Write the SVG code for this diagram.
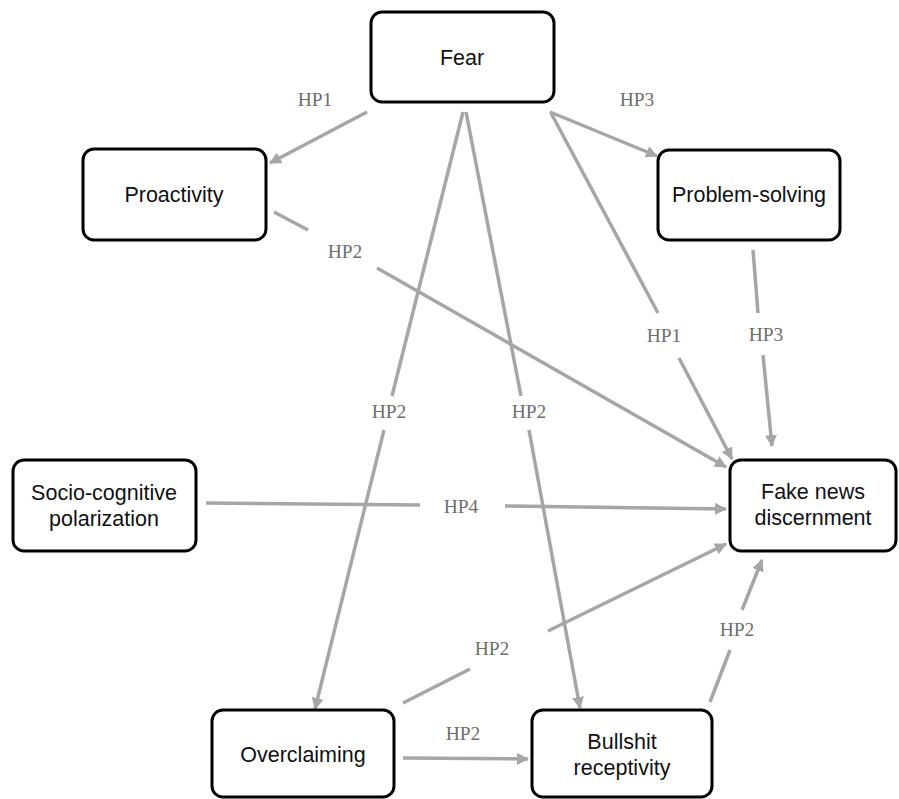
<svg xmlns="http://www.w3.org/2000/svg" width="899" height="799" viewBox="0 0 899 799">
<defs>
<marker id="ah" markerWidth="12" markerHeight="12" viewBox="0 0 12 12" refX="11" refY="6" orient="auto" markerUnits="userSpaceOnUse">
<path d="M0,0 L12,6 L0,12 Z" fill="#a6a6a6"/>
</marker>
<style>
.box{fill:#fff;stroke:#000;stroke-width:3}
.nt{font-family:"Liberation Sans",Arial,sans-serif;font-size:21.5px;fill:#111;text-anchor:middle}
.ln{stroke:#a6a6a6;stroke-width:3.5;fill:none}
.lb{font-family:"Liberation Serif","Times New Roman",serif;font-size:19.5px;fill:#6e6e6e;text-anchor:middle}
</style>
</defs>
<rect width="899" height="799" fill="#fff"/>
<g id="connectors">
<line class="ln" x1="367" y1="112" x2="270" y2="163" marker-end="url(#ah)"/>
<text class="lb" x="315" y="106">HP1</text>
<line class="ln" x1="550" y1="112" x2="657" y2="156" marker-end="url(#ah)"/>
<text class="lb" x="637" y="106">HP3</text>
<line class="ln" x1="463" y1="112" x2="392" y2="396"/>
<line class="ln" x1="384" y1="430" x2="315" y2="709" marker-end="url(#ah)"/>
<text class="lb" x="389" y="418">HP2</text>
<line class="ln" x1="466" y1="112" x2="521" y2="396"/>
<line class="ln" x1="529" y1="430" x2="580" y2="708" marker-end="url(#ah)"/>
<text class="lb" x="529" y="418">HP2</text>
<line class="ln" x1="551" y1="113" x2="658" y2="313"/>
<line class="ln" x1="679" y1="358" x2="732" y2="459" marker-end="url(#ah)"/>
<text class="lb" x="664" y="342">HP1</text>
<line class="ln" x1="274" y1="212" x2="308" y2="230"/>
<line class="ln" x1="377" y1="268" x2="726" y2="467" marker-end="url(#ah)"/>
<text class="lb" x="345" y="258">HP2</text>
<line class="ln" x1="753" y1="250" x2="758" y2="313"/>
<line class="ln" x1="763" y1="355" x2="772" y2="446" marker-end="url(#ah)"/>
<text class="lb" x="766" y="341">HP3</text>
<line class="ln" x1="206" y1="503" x2="420" y2="505"/>
<line class="ln" x1="505" y1="506" x2="726" y2="509" marker-end="url(#ah)"/>
<text class="lb" x="461" y="513">HP4</text>
<line class="ln" x1="403" y1="703" x2="470" y2="669"/>
<line class="ln" x1="548" y1="631" x2="726" y2="544" marker-end="url(#ah)"/>
<text class="lb" x="492" y="655">HP2</text>
<line class="ln" x1="403" y1="758" x2="528" y2="759" marker-end="url(#ah)"/>
<text class="lb" x="463" y="740">HP2</text>
<line class="ln" x1="710" y1="702" x2="730" y2="650"/>
<line class="ln" x1="742" y1="610" x2="762" y2="560" marker-end="url(#ah)"/>
<text class="lb" x="737" y="636">HP2</text>
</g>
<g id="fear"><rect class="box" x="371" y="12" width="183" height="90" rx="11"/><text class="nt" x="462" y="65">Fear</text></g>
<g id="proactivity"><rect class="box" x="83" y="149" width="183" height="91" rx="11"/><text class="nt" x="174" y="202">Proactivity</text></g>
<g id="problem-solving"><rect class="box" x="658" y="150" width="182" height="90" rx="11"/><text class="nt" x="749" y="202">Problem-solving</text></g>
<g id="socio"><rect class="box" x="13" y="460" width="183" height="91" rx="11"/><text class="nt" x="104" y="500">Socio-cognitive</text><text class="nt" x="104" y="526">polarization</text></g>
<g id="fake-news"><rect class="box" x="730" y="460" width="166" height="91" rx="11"/><text class="nt" x="813" y="499">Fake news</text><text class="nt" x="813" y="525">discernment</text></g>
<g id="overclaiming"><rect class="box" x="212" y="710" width="182" height="87" rx="11"/><text class="nt" x="303" y="762">Overclaiming</text></g>
<g id="bullshit"><rect class="box" x="532" y="710" width="180" height="87" rx="11"/><text class="nt" x="622" y="749">Bullshit</text><text class="nt" x="622" y="775">receptivity</text></g>
</svg>
